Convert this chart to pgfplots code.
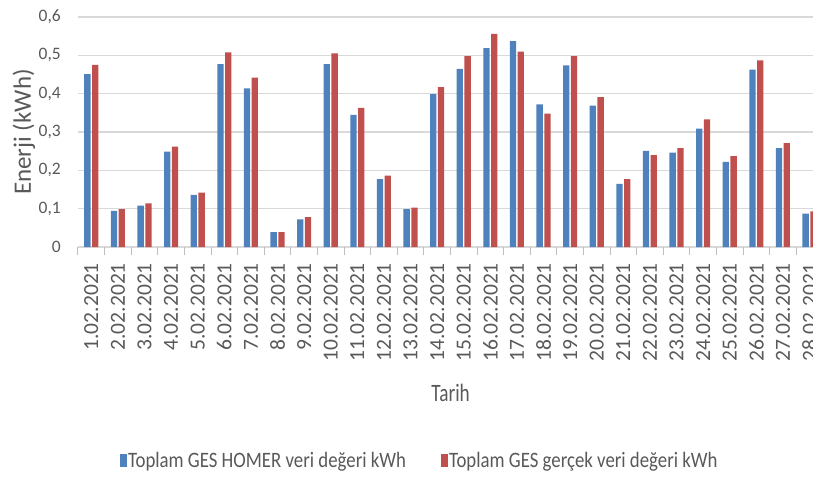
\documentclass[border=0pt]{standalone}
\usepackage{pgfplots}
\pgfplotsset{compat=1.18}
\usepackage{fontspec}
\setmainfont{Carlito}
\newfontfamily\narrowfont{Carlito}[FakeStretch=0.855]
\newfontfamily\tarihfont{Carlito}[FakeStretch=0.77]
\definecolor{barblue}{HTML}{4F81BD}
\definecolor{barred}{HTML}{C0504D}
\definecolor{gridgray}{HTML}{D9D9D9}
\definecolor{textgray}{HTML}{595959}
\definecolor{tickgray}{HTML}{BFBFBF}
\begin{document}
\begin{tikzpicture}
\begin{axis}[
  name=ax,
  scale only axis,
  width=735bp, height=230bp,
  ybar=1.5bp, bar width=6.3bp,
  xmin=0.5, xmax=28.13, ymin=0, ymax=0.6,
  enlargelimits=false,
  axis line style={draw=none},
  xtick={1,...,28},
  xticklabels={1.02.2021,2.02.2021,3.02.2021,4.02.2021,5.02.2021,6.02.2021,7.02.2021,8.02.2021,9.02.2021,10.02.2021,11.02.2021,12.02.2021,13.02.2021,14.02.2021,15.02.2021,16.02.2021,17.02.2021,18.02.2021,19.02.2021,20.02.2021,21.02.2021,22.02.2021,23.02.2021,24.02.2021,25.02.2021,26.02.2021,27.02.2021,28.02.2021},
  minor xtick={0.5,1.5,...,28.5},
  xtick pos=bottom, xtick align=outside,
  major tick length=0pt, minor tick length=8bp,
  minor tick style={draw=tickgray, line width=1bp},
  ytick={0,0.1,0.2,0.3,0.4,0.5,0.6},
  yticklabels={0,{0,1},{0,2},{0,3},{0,4},{0,5},{0,6}},
  ytick style={draw=none},
  ymajorgrids,
  major grid style={draw=gridgray, line width=1.5bp},
  xticklabel style={rotate=90, anchor=east, inner sep=0pt, text=textgray, font=\fontsize{21.5bp}{24bp}\selectfont},
  xticklabel shift=16bp,
  yticklabel style={anchor=east, inner sep=0pt, text=textgray, font=\fontsize{17.5bp}{20bp}\selectfont},
  yticklabel shift=17bp,
  ylabel={Enerji (kWh)},
  ylabel style={at={(axis description cs:-0.0735,0.5)}, anchor=center, rotate=0, text=textgray, font=\fontsize{25bp}{28bp}\selectfont},
  xlabel={Tarih},
  xlabel style={at={(axis description cs:0.507,-0.635)}, anchor=center, text=textgray, font=\tarihfont\fontsize{25bp}{28bp}\selectfont},
  legend columns=2,
  legend cell align=left,
  legend style={draw=none, fill=none, inner sep=0pt, at={(axis description cs:0.057,-0.93)}, anchor=west,
    font=\narrowfont\fontsize{22bp}{26bp}\selectfont, text=textgray,
    nodes={inner sep=1bp},
    /tikz/every even column/.append style={column sep=34bp}},
  legend image code/.code={\draw[#1, draw=none] (0bp,-6.5bp) rectangle (7bp,6.5bp);},
]
\addplot[fill=barblue, draw=none] coordinates {
(1,0.451) (2,0.094) (3,0.108) (4,0.249) (5,0.136) (6,0.477) (7,0.414)
(8,0.039) (9,0.072) (10,0.477) (11,0.345) (12,0.177) (13,0.099) (14,0.399)
(15,0.465) (16,0.519) (17,0.537) (18,0.372) (19,0.474) (20,0.369) (21,0.165)
(22,0.251) (23,0.246) (24,0.309) (25,0.222) (26,0.463) (27,0.258) (28,0.087)
};
\addplot[fill=barred, draw=none] coordinates {
(1,0.475) (2,0.099) (3,0.114) (4,0.262) (5,0.142) (6,0.508) (7,0.442)
(8,0.039) (9,0.078) (10,0.505) (11,0.363) (12,0.186) (13,0.103) (14,0.417)
(15,0.498) (16,0.556) (17,0.510) (18,0.348) (19,0.498) (20,0.391) (21,0.177)
(22,0.240) (23,0.258) (24,0.333) (25,0.237) (26,0.487) (27,0.271) (28,0.093)
};
\legend{Toplam GES HOMER veri değeri kWh, Toplam GES gerçek veri değeri kWh}
\end{axis}
\pgfresetboundingbox
\path[use as bounding box] ([xshift=-78bp, yshift=-232bp]ax.south west) rectangle ([yshift=17bp]ax.north east);
\end{tikzpicture}
\end{document}
